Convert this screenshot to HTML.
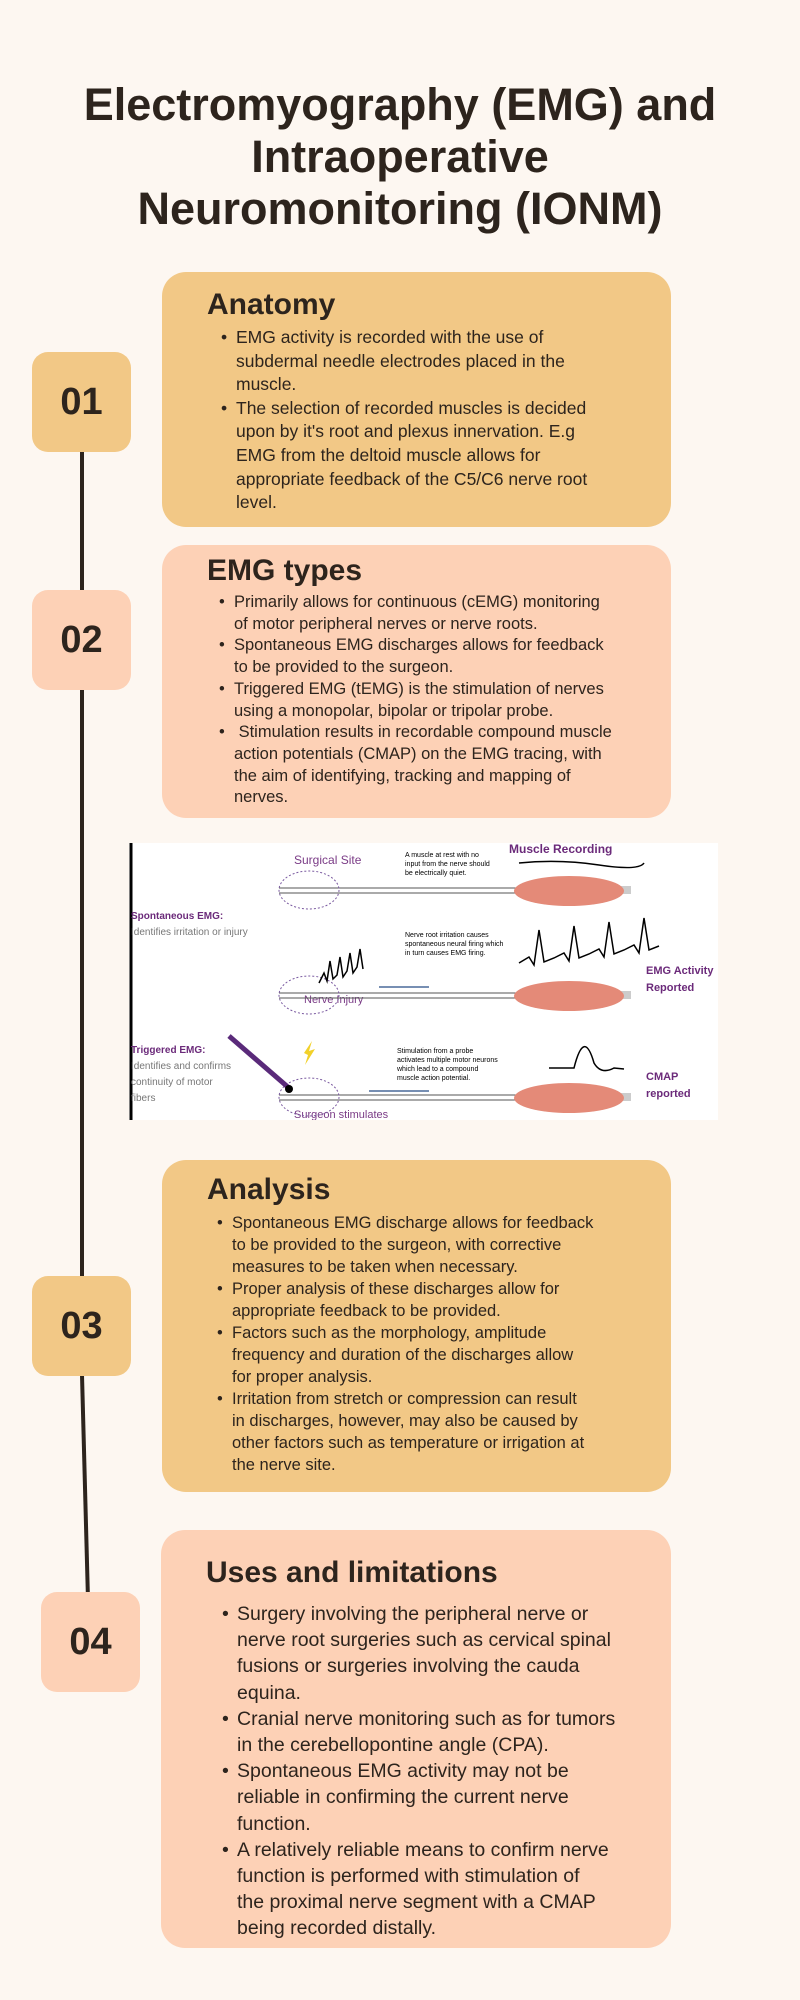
<!DOCTYPE html>
<html><head><meta charset="utf-8"><style>
*{margin:0;padding:0;box-sizing:border-box}
body{width:800px;height:2000px;background:#fdf7f1;font-family:"Liberation Sans",sans-serif;color:#2d241d;position:relative;overflow:hidden}
.abs{position:absolute}
h1{position:absolute;left:0;width:800px;top:79px;text-align:center;font-size:45px;line-height:52px;font-weight:bold;color:#2d241d}
.card{position:absolute;border-radius:24px}
.y{background:#f2c886}.p{background:#fdd1b6}
.badge{position:absolute;width:99px;height:100px;border-radius:16px;font-size:38px;font-weight:bold;display:flex;align-items:center;justify-content:center}
.card h2{position:absolute;font-size:30px;font-weight:bold;white-space:nowrap}
.card ul{position:absolute;list-style:none;white-space:nowrap}
.card li{position:relative}
.card li:before{content:"•";position:absolute;left:-15px}
</style></head><body>
<h1>Electromyography (EMG) and<br>Intraoperative<br>Neuromonitoring (IONM)</h1>

<svg class="abs" style="left:0;top:0" width="800" height="2000">
<line x1="82" y1="450" x2="82" y2="1280" stroke="#2d241d" stroke-width="4"/>
<line x1="82" y1="1375" x2="88" y2="1600" stroke="#2d241d" stroke-width="4"/>
</svg>

<div class="card y" style="left:162px;top:272px;width:509px;height:255px">
<h2 style="left:45px;top:16px">Anatomy</h2>
<ul style="left:74px;top:54px;font-size:17.5px;line-height:23.6px">
<li>EMG activity is recorded with the use of<br>subdermal needle electrodes placed in the<br>muscle.</li>
<li>The selection of recorded muscles is decided<br>upon by it's root and plexus innervation. E.g<br>EMG from the deltoid muscle allows for<br>appropriate feedback of the C5/C6 nerve root<br>level.</li>
</ul></div>
<div class="badge y" style="left:32px;top:352px">01</div>

<div class="card p" style="left:162px;top:545px;width:509px;height:273px">
<h2 style="left:45px;top:9px">EMG types</h2>
<ul style="left:72px;top:47px;font-size:16.5px;line-height:21.7px">
<li>Primarily allows for continuous (cEMG) monitoring<br>of motor peripheral nerves or nerve roots.</li>
<li>Spontaneous EMG discharges allows for feedback<br>to be provided to the surgeon.</li>
<li>Triggered EMG (tEMG) is the stimulation of nerves<br>using a monopolar, bipolar or tripolar probe.</li>
<li>&nbsp;Stimulation results in recordable compound muscle<br>action potentials (CMAP) on the EMG tracing, with<br>the aim of identifying, tracking and mapping of<br>nerves.</li>
</ul></div>
<div class="badge p" style="left:32px;top:590px">02</div>

<svg class="abs" style="left:129px;top:843px" width="589" height="277" viewBox="0 0 589 277">
<rect width="589" height="277" fill="#fff"/>
<line x1="2" y1="0" x2="2" y2="277" stroke="#000" stroke-width="3"/>
<g font-family="Liberation Sans" >
<text x="165" y="21" font-size="12" fill="#7a3b86">Surgical Site</text>
<text x="276" y="14" font-size="7">A muscle at rest with no</text>
<text x="276" y="23" font-size="7">input from the nerve should</text>
<text x="276" y="32" font-size="7">be electrically quiet.</text>
<text x="380" y="10" font-size="12" font-weight="bold" fill="#6b2a7a">Muscle Recording</text>
<text x="2" y="76" font-size="10" font-weight="bold" fill="#6b2a7a">Spontaneous EMG:</text>
<text x="2" y="92" font-size="10" fill="#777">Identifies irritation or injury</text>
<text x="276" y="94" font-size="7">Nerve root irritation causes</text>
<text x="276" y="103" font-size="7">spontaneous neural firing which</text>
<text x="276" y="112" font-size="7">in turn causes EMG firing.</text>
<text x="517" y="131" font-size="11" font-weight="bold" fill="#6b2a7a">EMG Activity</text>
<text x="517" y="148" font-size="11" font-weight="bold" fill="#6b2a7a">Reported</text>
<text x="175" y="160" font-size="11" fill="#7a3b86">Nerve Injury</text>
<text x="2" y="210" font-size="10" font-weight="bold" fill="#6b2a7a">Triggered EMG:</text>
<text x="2" y="226" font-size="10" fill="#777">Identifies and confirms</text>
<text x="2" y="242" font-size="10" fill="#777">continuity of motor</text>
<text x="2" y="258" font-size="10" fill="#777">fibers</text>
<text x="268" y="210" font-size="7">Stimulation from a probe</text>
<text x="268" y="219" font-size="7">activates multiple motor neurons</text>
<text x="268" y="228" font-size="7">which lead to a compound</text>
<text x="268" y="237" font-size="7">muscle action potential.</text>
<text x="517" y="237" font-size="11" font-weight="bold" fill="#6b2a7a">CMAP</text>
<text x="517" y="254" font-size="11" font-weight="bold" fill="#6b2a7a">reported</text>
<text x="165" y="275" font-size="11" fill="#7a3b86">Surgeon stimulates</text>
</g>
<g stroke="#555" stroke-width="1" fill="none">
<path d="M150 45H390M150 50H390M150 150H390M150 155H390M150 252H390M150 257H390"/>
</g>
<g stroke="#7a5aa0" stroke-dasharray="2 2" fill="none">
<ellipse cx="180" cy="47" rx="30" ry="19"/><ellipse cx="180" cy="152" rx="30" ry="19"/><ellipse cx="180" cy="254" rx="30" ry="19"/>
</g>
<g fill="#ccc"><rect x="490" y="43" width="12" height="8"/><rect x="490" y="148" width="12" height="8"/><rect x="490" y="250" width="12" height="8"/></g>
<g fill="#e48a78">
<ellipse cx="440" cy="48" rx="55" ry="15"/><ellipse cx="440" cy="153" rx="55" ry="15"/><ellipse cx="440" cy="255" rx="55" ry="15"/>
</g>
<g stroke="#000" stroke-width="1.5" fill="none">
<path d="M390 20 Q430 16 470 22 T515 20"/>
<path d="M390 120 l10 -6 l5 8 l5 -35 l5 32 l10 -4 l10 -5 l5 8 l5 -35 l5 32 l10 -4 l10 -5 l5 8 l5 -35 l5 32 l10 -4 l10 -5 l5 8 l5 -35 l5 32 l10 -4"/>
<path d="M420 225 L445 225 Q455 185 465 220 Q472 232 485 225 L495 226"/>
<path d="M190 140 l5 -10 l3 8 l3 -20 l3 18 l4 -4 l3 -18 l3 20 l4 -6 l3 -18 l3 20 l4 -6 l3 -18 l3 20"/>
</g>
<path d="M250 144H300M240 248H300" stroke="#4a6a9a" stroke-width="1.5"/>
<line x1="100" y1="193" x2="160" y2="245" stroke="#5a2a7a" stroke-width="5"/>
<circle cx="160" cy="246" r="4" fill="#000"/>
<path d="M175 210 l8 -12 l-3 10 l6 -2 l-10 16 l3 -10z" fill="#f2d12a"/>
</svg>

<div class="card y" style="left:162px;top:1160px;width:509px;height:332px">
<h2 style="left:45px;top:13px">Analysis</h2>
<ul style="left:70px;top:52px;font-size:16.5px;line-height:22px">
<li>Spontaneous EMG discharge allows for feedback<br>to be provided to the surgeon, with corrective<br>measures to be taken when necessary.</li>
<li>Proper analysis of these discharges allow for<br>appropriate feedback to be provided.</li>
<li>Factors such as the morphology, amplitude<br>frequency and duration of the discharges allow<br>for proper analysis.</li>
<li>Irritation from stretch or compression can result<br>in discharges, however, may also be caused by<br>other factors such as temperature or irrigation at<br>the nerve site.</li>
</ul></div>
<div class="badge y" style="left:32px;top:1276px">03</div>

<div class="card p" style="left:161px;top:1530px;width:510px;height:418px">
<h2 style="left:45px;top:26px">Uses and limitations</h2>
<ul style="left:76px;top:71px;font-size:19.5px;line-height:26.2px">
<li>Surgery involving the peripheral nerve or<br>nerve root surgeries such as cervical spinal<br>fusions or surgeries involving the cauda<br>equina.</li>
<li>Cranial nerve monitoring such as for tumors<br>in the cerebellopontine angle (CPA).</li>
<li>Spontaneous EMG activity may not be<br>reliable in confirming the current nerve<br>function.</li>
<li>A relatively reliable means to confirm nerve<br>function is performed with stimulation of<br>the proximal nerve segment with a CMAP<br>being recorded distally.</li>
</ul></div>
<div class="badge p" style="left:41px;top:1592px">04</div>
</body></html>
